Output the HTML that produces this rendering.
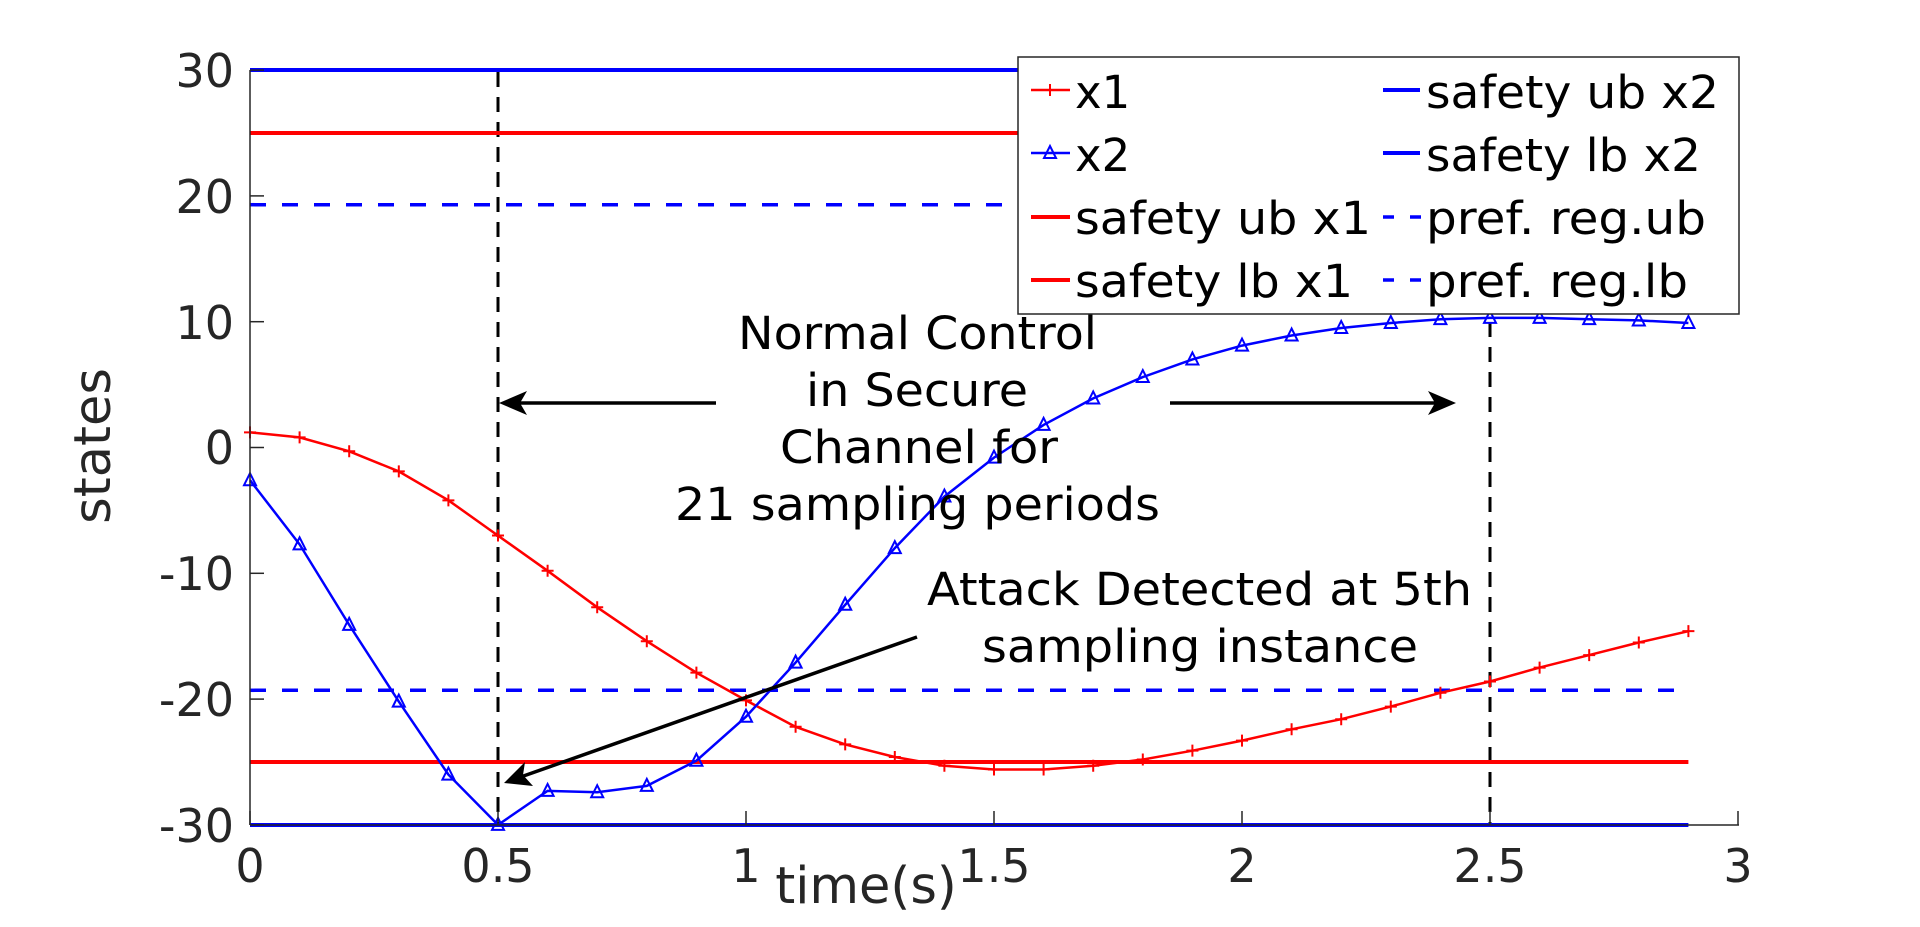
<!DOCTYPE html>
<html><head><meta charset="utf-8"><style>
html,body{margin:0;padding:0;background:#fff;}
svg{display:block;}
.tk{font-family:"DejaVu Sans","Liberation Sans",sans-serif;font-size:46px;fill:#262626;}
.an{font-family:"DejaVu Sans","Liberation Sans",sans-serif;font-size:45px;fill:#000;}
.lg{font-family:"DejaVu Sans","Liberation Sans",sans-serif;font-size:45px;fill:#000;}
</style></head><body>
<svg id="s" width="1920" height="927" viewBox="0 0 1920 927" xmlns="http://www.w3.org/2000/svg">
<rect width="1920" height="927" fill="#fff"/>
<g id="plot"></g>
<!-- axes -->
<line x1="250" y1="70" x2="250" y2="825" stroke="#262626" stroke-width="1.5"/>
<line x1="250" y1="825" x2="1739" y2="825" stroke="#262626" stroke-width="1.5"/>
<g id="ticks" stroke="#262626" stroke-width="1.5"></g>
<!-- y tick labels -->
<g class="tk" text-anchor="end">
<text x="234" y="87">30</text>
<text x="234" y="213">20</text>
<text x="234" y="339">10</text>
<text x="234" y="464">0</text>
<text x="234" y="590">-10</text>
<text x="234" y="716">-20</text>
<text x="234" y="842">-30</text>
</g>
<g class="tk" text-anchor="middle">
<text x="250" y="882">0</text>
<text x="498" y="882">0.5</text>
<text x="746" y="882">1</text>
<text x="994" y="882">1.5</text>
<text x="1242" y="882">2</text>
<text x="1490" y="882">2.5</text>
<text x="1738" y="882">3</text>
</g>
<text class="tk" x="866" y="903" text-anchor="middle" style="font-size:51px">time(s)</text>
<text class="tk" transform="translate(110,446) rotate(-90)" text-anchor="middle" style="font-size:51px">states</text>
<!-- annotations -->
<g class="an">
<text x="738" y="349" textLength="359" lengthAdjust="spacingAndGlyphs">Normal Control</text>
<text x="806" y="406" textLength="222" lengthAdjust="spacingAndGlyphs">in Secure</text>
<text x="780" y="463" textLength="278" lengthAdjust="spacingAndGlyphs">Channel for</text>
<text x="675" y="520" textLength="485" lengthAdjust="spacingAndGlyphs">21 sampling periods</text>
<text x="927" y="605" textLength="545" lengthAdjust="spacingAndGlyphs">Attack Detected at 5th</text>
<text x="982" y="662" textLength="436" lengthAdjust="spacingAndGlyphs">sampling instance</text>
</g>
<g stroke="#000" stroke-width="3.5" fill="none">
<line x1="716" y1="403" x2="505" y2="403"/>
<line x1="1170" y1="403" x2="1448" y2="403"/>
<line x1="917" y1="637" x2="515" y2="779"/>
</g>
<g fill="#000">
<polygon points="499,403 527,391 520,403 527,415"/>
<polygon points="1456,403 1428,391 1435,403 1428,415"/>
<polygon points="504,783 525,762 523,775 533,786"/>
</g>
<!-- legend -->
<rect x="1018" y="57" width="721" height="257" fill="#fff" stroke="#262626" stroke-width="1.5"/>
<g id="leg"></g>
<g class="lg">
<text x="1075" y="108">x1</text>
<text x="1075" y="171">x2</text>
<text x="1075" y="234" textLength="296" lengthAdjust="spacingAndGlyphs">safety ub x1</text>
<text x="1075" y="297" textLength="278" lengthAdjust="spacingAndGlyphs">safety lb x1</text>
<text x="1426" y="108" textLength="293" lengthAdjust="spacingAndGlyphs">safety ub x2</text>
<text x="1426" y="171" textLength="275" lengthAdjust="spacingAndGlyphs">safety lb x2</text>
<text x="1426" y="234" textLength="280" lengthAdjust="spacingAndGlyphs">pref. reg.ub</text>
<text x="1426" y="297" textLength="262" lengthAdjust="spacingAndGlyphs">pref. reg.lb</text>
</g>
</svg>
<script>
(function(){
var NS="http://www.w3.org/2000/svg";
function X(t){return 250+496*t;}
function Y(v){return 447.5-12.58*v;}
function el(p,n,a){var e=document.createElementNS(NS,n);for(var k in a)e.setAttribute(k,a[k]);p.appendChild(e);return e;}
var g=document.getElementById("plot"),tk=document.getElementById("ticks"),lg=document.getElementById("leg");
var x1=[1.2,0.8,-0.3,-1.9,-4.2,-7.0,-9.8,-12.7,-15.4,-17.9,-20.1,-22.2,-23.6,-24.6,-25.3,-25.6,-25.6,-25.3,-24.8,-24.1,-23.3,-22.4,-21.6,-20.6,-19.5,-18.6,-17.5,-16.5,-15.5,-14.6];
var x2=[-2.6,-7.7,-14.1,-20.2,-26.0,-30,-27.3,-27.4,-26.9,-24.9,-21.4,-17.1,-12.5,-8.0,-3.9,-0.8,1.8,3.9,5.6,7.0,8.1,8.9,9.5,9.9,10.2,10.3,10.3,10.2,10.1,9.9];
// vertical dashed
[0.5,2.5].forEach(function(t){el(g,"line",{x1:X(t),y1:72,x2:X(t),y2:825,stroke:"#000","stroke-width":3,"stroke-dasharray":"15,10"});});
// bounds
el(g,"line",{x1:250,y1:Y(25),x2:X(2.9),y2:Y(25),stroke:"#f00","stroke-width":4});
el(g,"line",{x1:250,y1:Y(-25),x2:X(2.9),y2:Y(-25),stroke:"#f00","stroke-width":4});
el(g,"line",{x1:250,y1:70,x2:X(2.9),y2:70,stroke:"#00f","stroke-width":4});
el(g,"line",{x1:250,y1:825,x2:X(2.9),y2:825,stroke:"#00f","stroke-width":4});
el(g,"line",{x1:250,y1:Y(19.3),x2:X(2.9),y2:Y(19.3),stroke:"#00f","stroke-width":3.5,"stroke-dasharray":"16,16"});
el(g,"line",{x1:250,y1:Y(-19.3),x2:X(2.9),y2:Y(-19.3),stroke:"#00f","stroke-width":3.5,"stroke-dasharray":"16,16"});
function poly(d,c){var p=d.map(function(v,i){return X(i*0.1).toFixed(1)+","+Y(v).toFixed(1);}).join(" ");el(g,"polyline",{points:p,fill:"none",stroke:c,"stroke-width":2.5});}
poly(x1,"#f00");poly(x2,"#00f");
function plus(p,x,y){el(p,"path",{d:"M"+(x-6)+","+y+"h12M"+x+","+(y-6)+"v12",stroke:"#f00","stroke-width":2,fill:"none"});}
function tri(p,x,y){el(p,"polygon",{points:x+","+(y-7)+" "+(x-6)+","+(y+5)+" "+(x+6)+","+(y+5),stroke:"#00f","stroke-width":2,fill:"none"});}
x1.forEach(function(v,i){plus(g,X(i*0.1),Y(v));});
x2.forEach(function(v,i){tri(g,X(i*0.1),Y(v));});
// ticks
[30,20,10,0,-10,-20,-30].forEach(function(v){el(tk,"line",{x1:250,y1:Y(v),x2:264,y2:Y(v)});});
[0,0.5,1,1.5,2,2.5,3].forEach(function(t){el(tk,"line",{x1:X(t),y1:825,x2:X(t),y2:811});});
// legend samples
var rows=[90,153,217,280];
el(lg,"line",{x1:1031,y1:rows[0],x2:1070,y2:rows[0],stroke:"#f00","stroke-width":2.5});plus(lg,1050,rows[0]);
el(lg,"line",{x1:1031,y1:rows[1],x2:1070,y2:rows[1],stroke:"#00f","stroke-width":2.5});tri(lg,1050,rows[1]);
el(lg,"line",{x1:1031,y1:rows[2],x2:1070,y2:rows[2],stroke:"#f00","stroke-width":4});
el(lg,"line",{x1:1031,y1:rows[3],x2:1070,y2:rows[3],stroke:"#f00","stroke-width":4});
el(lg,"line",{x1:1383,y1:rows[0],x2:1420,y2:rows[0],stroke:"#00f","stroke-width":4});
el(lg,"line",{x1:1383,y1:rows[1],x2:1420,y2:rows[1],stroke:"#00f","stroke-width":4});
el(lg,"line",{x1:1383,y1:rows[2],x2:1421,y2:rows[2],stroke:"#00f","stroke-width":3.5,"stroke-dasharray":"11,16"});
el(lg,"line",{x1:1383,y1:rows[3],x2:1421,y2:rows[3],stroke:"#00f","stroke-width":3.5,"stroke-dasharray":"11,16"});
})();
</script>
</body></html>
